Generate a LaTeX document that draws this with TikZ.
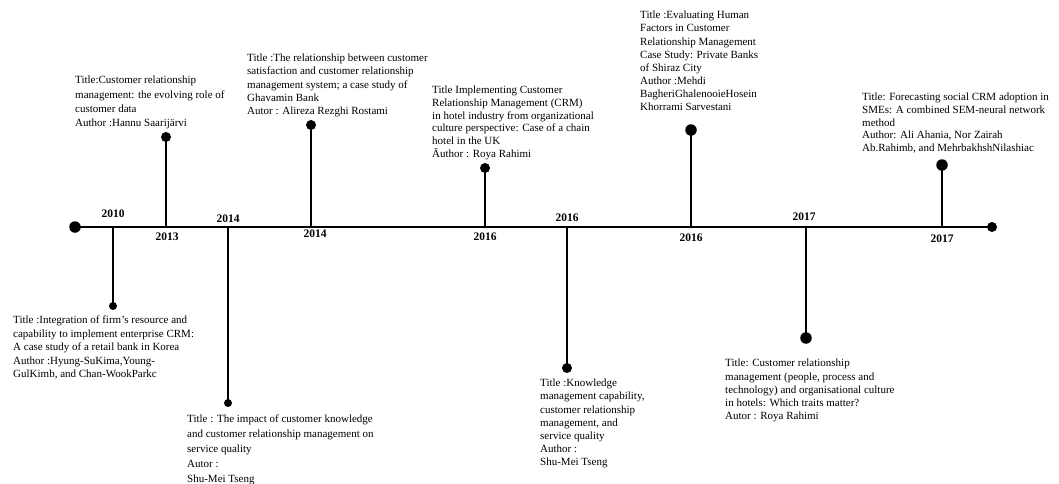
\documentclass[tikz,border=0pt]{standalone}
\usepackage{fontspec}
\setmainfont{Liberation Serif}
\begin{document}
\begin{tikzpicture}[x=1pt,y=-1pt,
  axis/.style={line width=2.6pt},
  stem/.style={line width=2.2pt},
  dotL/.style={circle,fill=black,inner sep=0pt,minimum size=11.5pt},
  dotM/.style={circle,fill=black,inner sep=0pt,minimum size=10pt},
  dotS/.style={circle,fill=black,inner sep=0pt,minimum size=8pt},
  yr/.style={font=\fontsize{11.5}{12}\selectfont\bfseries,inner sep=0pt},
  info/.style={anchor=north west,align=left,inner sep=0pt,font=\fontsize{11}{#1}\selectfont}]
\useasboundingbox (0,0) rectangle (1059,483);
% axis
\node[dotL] (L) at (75,227) {};
\node[dotM] (R) at (992,227) {};
\draw[axis] (L.center) -- (R.center);
% anchor points on the axis
\coordinate (a1) at (113,227);
\coordinate (a2) at (166,227);
\coordinate (a3) at (228,227);
\coordinate (a4) at (311,227);
\coordinate (a5) at (485,227);
\coordinate (a6) at (567,227);
\coordinate (a7) at (691,227);
\coordinate (a8) at (806,227);
\coordinate (a9) at (942,227);
% stem ends
\node[dotS] (d1) at (113,306) {};
\node[dotM] (d2) at (166,137) {};
\node[dotS] (d3) at (228,403) {};
\node[dotM] (d4) at (311,125) {};
\node[dotM] (d5) at (485,168) {};
\node[dotM] (d6) at (567,368) {};
\node[dotL] (d7) at (691,130) {};
\node[dotL] (d8) at (806,338) {};
\node[dotL] (d9) at (942,165) {};
\foreach \i in {1,...,9} \draw[stem] (a\i) -- (d\i.center);
% years
\node[yr] (y1) at (113,214) {2010};
\node[yr] (y2) at (167,237) {2013};
\node[yr] (y3) at (228,219) {2014};
\node[yr] (y4) at (315,234) {2014};
\node[yr] (y5) at (485,237) {2016};
\node[yr] (y6) at (567,218) {2016};
\node[yr] (y7) at (691,238) {2016};
\node[yr] (y8) at (804,217) {2017};
\node[yr] (y9) at (942,239) {2017};
% texts
\node[info=14.2] (t2) at (75,76) {Title:Customer relationship\\management: the evolving role of\\customer data\\Author :Hannu Saarijärvi};
\node[info=13.1] (t4) at (247,54) {Title :The relationship between customer\\satisfaction and customer relationship\\management system; a case study of\\Ghavamin Bank\\Autor : Alireza Rezghi Rostami};
\node[info=12.7] (t5) at (432,86) {Title Implementing Customer\\Relationship Management (CRM)\\in hotel industry from organizational\\culture perspective: Case of a chain\\hotel in the UK\\Āuthor : Roya Rahimi};
\node[info=13.1] (t7) at (640,11) {Title :Evaluating Human\\Factors in Customer\\Relationship Management\\Case Study: Private Banks\\of Shiraz City\\Author :Mehdi\\BagheriGhalenooieHosein\\Khorrami Sarvestani};
\node[info=12.75] (t9) at (862,92.7) {Title: Forecasting social CRM adoption in\\SMEs: A combined SEM-neural network\\method\\Author: Ali Ahania, Nor Zairah\\Ab.Rahimb, and MehrbakhshNilashiac};
\node[info=13.5] (t1) at (13,316) {Title :Integration of firm's resource and\\capability to implement enterprise CRM:\\A case study of a retail bank in Korea\\Author :Hyung-SuKima,Young-\\GulKimb, and Chan-WookParkc};
\node[info=14.8] (t3) at (187,415) {Title : The impact of customer knowledge\\and customer relationship management on\\service quality\\Autor :\\Shu-Mei Tseng};
\node[info=13.1] (t6) at (540,379) {Title :Knowledge\\management capability,\\customer relationship\\management, and\\service quality\\Author :\\Shu-Mei Tseng};
\node[info=13.2] (t8) at (725,359) {Title: Customer relationship\\management (people, process and\\technology) and organisational culture\\in hotels: Which traits matter?\\Autor : Roya Rahimi};
\end{tikzpicture}
\end{document}
